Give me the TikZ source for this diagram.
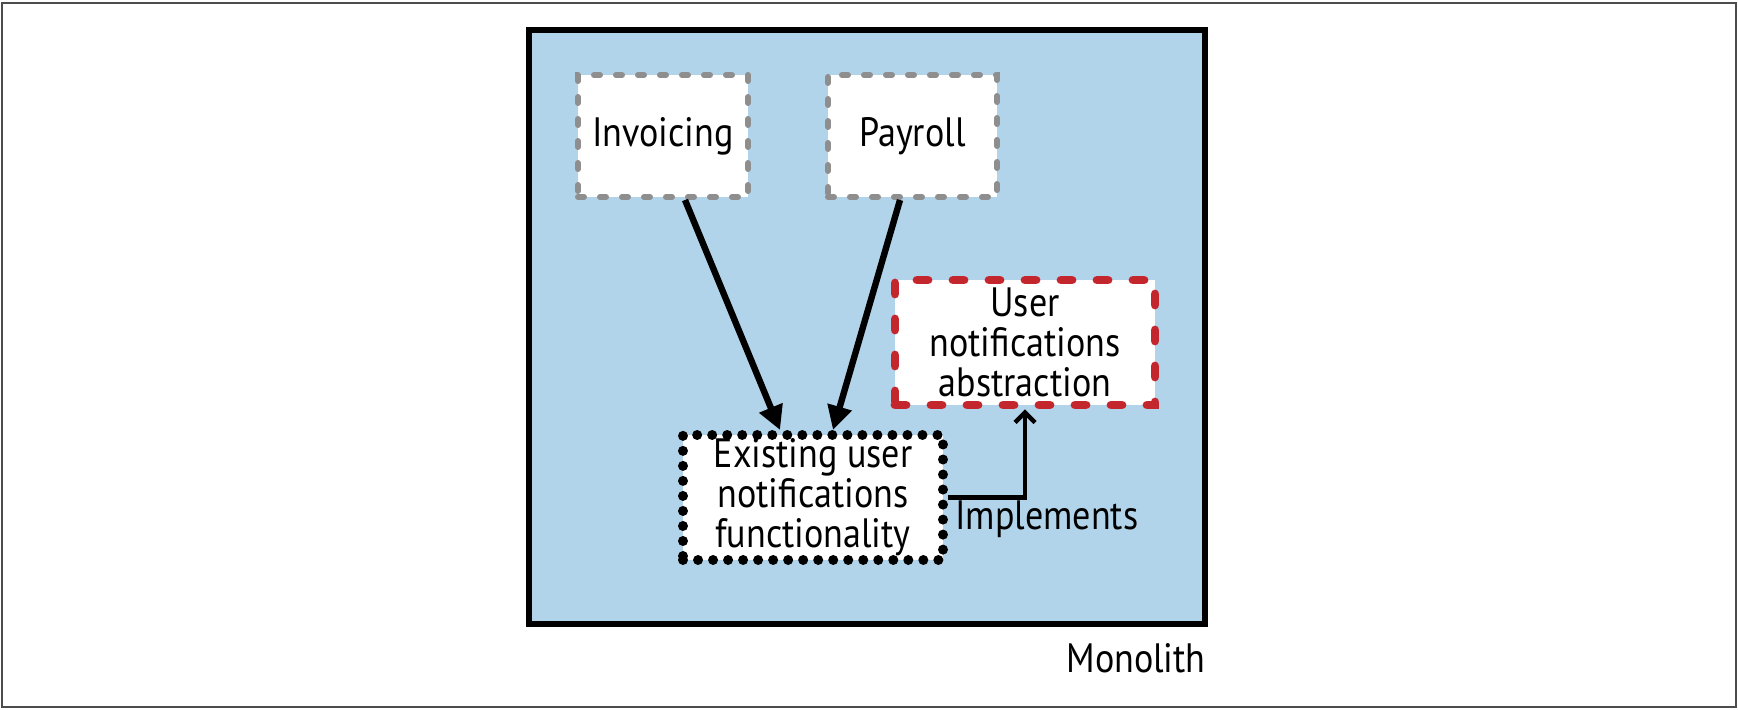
\documentclass[tikz,border=0pt]{standalone}
\usepackage{fontspec}
\newfontfamily\df[FakeStretch=0.88]{PT Sans}
\usetikzlibrary{arrows.meta}
\definecolor{monofill}{HTML}{B2D4EA}
\definecolor{absred}{HTML}{C4262E}
\definecolor{dashgray}{HTML}{8E8E8E}
\tikzset{
  lbl/.style={font=\df\fontsize{20.5}{20}\selectfont, align=center, inner sep=0pt},
  monobox/.style={draw=black, fill=monofill, line width=3.4pt},
  greybox/.style={lbl, draw=dashgray, fill=white, line width=3pt, line cap=round, dash pattern=on 3pt off 8pt},
  dotbox/.style={lbl, draw=black, fill=white, line width=5pt, line cap=round, dash pattern=on 0.01pt off 7.5pt},
  redbox/.style={lbl, draw=absred, fill=white, line width=4.4pt, line cap=round, dash pattern=on 5.5pt off 12.5pt},
  callarrow/.style={line width=3.2pt, -{Triangle[length=12pt,width=12pt]}},
  implarrow/.style={line width=2.2pt, -{Straight Barb[length=5pt,width=10pt]}},
}
\begin{document}
\begin{tikzpicture}[x=0.5pt,y=-0.5pt]
\useasboundingbox (0,0) rectangle (1738,710);
\draw[line width=1.2pt, gray!60!black] (2,3) rectangle (1736,707);
\node[monobox, minimum width=338pt, minimum height=297pt] (mono) at (867,327) {};
\node[lbl, anchor=east] (monolbl) at (1206,658) {Monolith};
\node[greybox, minimum width=85pt, minimum height=61pt] (inv) at (663,136) {Invoicing};
\node[greybox, minimum width=84.5pt, minimum height=61pt] (pay) at (912.5,136) {Payroll};
\node[redbox, minimum width=130pt, minimum height=62.5pt] (abs) at (1025,342.5) {User\\notifications\\abstraction};
\node[dotbox, minimum width=130pt, minimum height=62.5pt] (ex) at (813,497.5) {Existing user\\notifications\\functionality};
\draw[callarrow] ([xshift=11pt]inv.south) -- ([xshift=-16.5pt]ex.north);
\draw[callarrow] ([xshift=-6.25pt]pay.south) -- ([xshift=10pt]ex.north);
\draw[implarrow] (ex.east) -| (abs.south);
\node[lbl, anchor=west] (impl) at (955,519) {Implements};
\end{tikzpicture}
\end{document}
